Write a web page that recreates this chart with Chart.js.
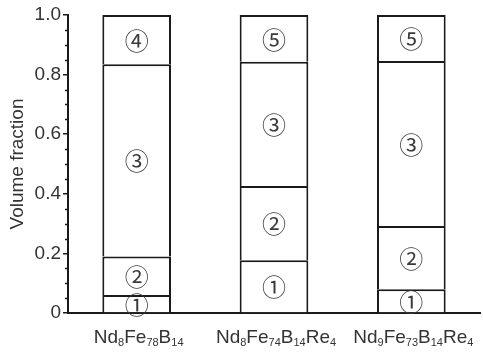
<!DOCTYPE html>
<html>
<head>
<meta charset="utf-8">
<script src="https://cdn.jsdelivr.net/npm/chart.js@4"></script>
<style>
  body { margin: 0; background: #fff; }
</style>
</head>
<body>
<canvas id="phases" width="483" height="356"></canvas>
<script>
// alloys (digits get drawn as subscripts)
const alloys = ['Nd8Fe78B14', 'Nd8Fe74B14Re4', 'Nd9Fe73B14Re4'];
const phaseNames = ['①', '②', '③', '④', '⑤'];
// volume fraction of each phase, bottom to top (null = phase absent)
const phase1 = [0.06, 0.177, 0.08];
const phase2 = [0.13, 0.249, 0.212];
const phase3 = [0.645, 0.417, 0.554];
const phase4 = [0.165, null, null];
const phase5 = [null, 0.157, 0.154];
const yTicks = [0, 0.2, 0.4, 0.6, 0.8, 1.0];

const ink = '#1a1a1a';
const textColor = '#333';

const makeSet = (name, values) => ({
    label: name,
    data: values,
    backgroundColor: '#fff',
    borderColor: ink,
    borderWidth: 2,
    borderSkipped: 'start',
    categoryPercentage: 1,
    barPercentage: 0.5
});

// circled numbers in the middle of each segment
const segmentLabels = {
    id: 'segmentLabels',
    afterDatasetsDraw(chart) {
        const ctx = chart.ctx;
        ctx.save();
        ctx.font = '24px "Noto Sans CJK SC"';
        ctx.fillStyle = '#3a3a3a';
        ctx.textAlign = 'center';
        ctx.textBaseline = 'middle';
        chart.data.datasets.forEach((ds, i) => {
            chart.getDatasetMeta(i).data.forEach((bar, j) => {
                if (!ds.data[j]) return;
                const mid = (bar.y + bar.base) / 2;
                ctx.fillText(ds.label, bar.x, mid + 1);
            });
        });
        ctx.restore();
    }
};

// minor ticks on y axis + chemical formula labels under x axis
const axisExtras = {
    id: 'axisExtras',
    afterDraw(chart) {
        const ctx = chart.ctx;
        const y = chart.scales.y;
        const x = chart.scales.x;
        ctx.save();
        ctx.strokeStyle = ink;
        ctx.lineWidth = 1.5;
        for (let k = 1; k < 20; k++) {
            if (k % 4 === 0) continue;
            const py = Math.round(y.getPixelForValue(k * 0.05)) + 0.5;
            ctx.beginPath();
            ctx.moveTo(y.right - 3, py);
            ctx.lineTo(y.right, py);
            ctx.stroke();
        }

        ctx.fillStyle = textColor;
        ctx.textBaseline = 'alphabetic';
        ctx.textAlign = 'left';
        const bigFont = '19px "Liberation Sans"';
        const smallFont = '11px "Liberation Sans"';
        alloys.forEach((name, i) => {
            const parts = name.match(/[A-Z][a-z]?|\d+/g);
            let total = 0;
            parts.forEach(p => {
                ctx.font = /\d/.test(p) ? smallFont : bigFont;
                total += ctx.measureText(p).width;
            });
            let px = x.getPixelForValue(i) - total / 2 + 2;
            const base = 343;
            parts.forEach(p => {
                const sub = /\d/.test(p);
                ctx.font = sub ? smallFont : bigFont;
                ctx.fillText(p, px, sub ? base + 3 : base);
                px += ctx.measureText(p).width;
            });
        });
        ctx.restore();
    }
};

new Chart(document.getElementById('phases'), {
    type: 'bar',
    data: {
        labels: alloys,
        datasets: [
            makeSet(phaseNames[0], phase1),
            makeSet(phaseNames[1], phase2),
            makeSet(phaseNames[2], phase3),
            makeSet(phaseNames[3], phase4),
            makeSet(phaseNames[4], phase5)
        ]
    },
    options: {
        responsive: false,
        animation: false,
        layout: { padding: { top: 15, right: 3, left: 0, bottom: 0 } },
        plugins: {
            legend: { display: false },
            tooltip: { enabled: false }
        },
        scales: {
            x: {
                stacked: true,
                grid: { display: false },
                border: { display: true, color: ink, width: 2 },
                ticks: { display: false },
                afterFit(scale) { scale.height = 43; }
            },
            y: {
                stacked: true,
                min: 0,
                max: 1,
                afterBuildTicks(scale) {
                    scale.ticks = yTicks.map(v => ({ value: v }));
                },
                ticks: {
                    color: textColor,
                    font: { family: 'Liberation Sans', size: 19 },
                    padding: 2,
                    callback: v => v === 0 ? '0' : v.toFixed(1)
                },
                grid: {
                    drawOnChartArea: false,
                    drawTicks: true,
                    tickLength: 5,
                    color: ink,
                    lineWidth: 1.5
                },
                border: { display: true, color: ink, width: 2 },
                title: {
                    display: true,
                    text: 'Volume fraction',
                    color: textColor,
                    font: { family: 'Liberation Sans', size: 19 },
                    padding: { top: 6, bottom: 0 }
                },
                afterFit(scale) { scale.width = 68; }
            }
        }
    },
    plugins: [segmentLabels, axisExtras]
});
</script>
</body>
</html>
